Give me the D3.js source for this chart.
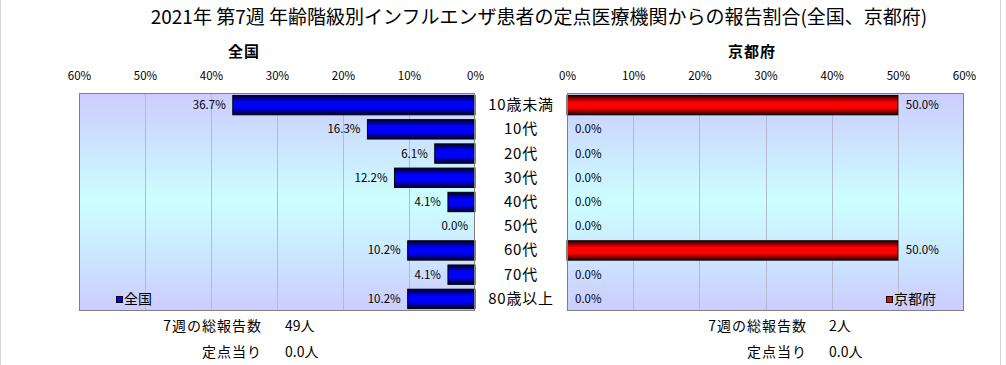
<!DOCTYPE html>
<html><head><meta charset="utf-8">
<script src="https://cdn.jsdelivr.net/npm/d3@7"></script>
<style>
body{margin:0;background:#fff;}
svg{display:block;font-family:"Noto Sans CJK JP","Noto Sans",sans-serif;}
</style></head>
<body><svg id="c" width="1006" height="365"></svg>
<script>
const title = "2021年 第7週 年齢階級別インフルエンザ患者の定点医療機関からの報告割合(全国、京都府)";
const categories = ["10歳未満","10代","20代","30代","40代","50代","60代","70代","80歳以上"];
const nationalValues = [0.367,0.163,0.061,0.122,0.041,0.000,0.102,0.041,0.102];
const kyotoValues = [0.500,0.000,0.000,0.000,0.000,0.000,0.500,0.000,0.000];
const tickValues = [0,0.1,0.2,0.3,0.4,0.5,0.6];
const seriesNames = ["全国","京都府"];
const totalLabel = "7週の総報告数";
const perPointLabel = "定点当り";
const totals = ["49人","2人"];
const perPoint = ["0.0人","0.0人"];

const svg = d3.select("#c");
const defs = svg.append("defs");

function vgrad(id, stops){
  const g = defs.append("linearGradient").attr("id",id).attr("x1",0).attr("y1",0).attr("x2",0).attr("y2",1);
  stops.forEach(s=>g.append("stop").attr("offset",s[0]).attr("stop-color",s[1]));
}
vgrad("bg",[[0,"#ccccff"],[0.5,"#ccffff"],[1,"#ccccff"]]);
vgrad("blue",[[0,"#000028"],[0.35,"#0000ff"],[0.65,"#0000ff"],[1,"#000028"]]);
vgrad("red",[[0,"#280000"],[0.35,"#ff0000"],[0.65,"#ff0000"],[1,"#280000"]]);

svg.append("line").attr("x1",0.5).attr("x2",0.5).attr("y1",0).attr("y2",365).attr("stroke","#d4d4d4");
svg.append("line").attr("x1",1000.5).attr("x2",1000.5).attr("y1",0).attr("y2",365).attr("stroke","#d4d4d4");

svg.append("text").attr("x",539).attr("y",24).attr("text-anchor","middle")
  .attr("font-size",19).attr("fill","#000").text(title);

const plotTop = 93, plotBottom = 311;
const y = d3.scaleBand().domain(categories).range([plotTop,plotBottom]).paddingInner(0.2).paddingOuter(0.1);
const xL = d3.scaleLinear().domain([0,0.6]).range([475,79]);
const xR = d3.scaleLinear().domain([0,0.6]).range([567,964]);
const pct0 = d3.format(".0%"), pct1 = d3.format(".1%");

function panel(x, values, grad, side, name, subX, legendX){
  const [a,b] = x.range();
  const x0 = Math.min(a,b), x1 = Math.max(a,b);
  const rows = values.map((v,i)=>({v, c:categories[i]}));
  svg.append("rect").attr("x",x0).attr("y",plotTop).attr("width",x1-x0).attr("height",plotBottom-plotTop).attr("fill","url(#bg)");
  svg.append("g").selectAll("line").data(tickValues.slice(1,-1)).join("line")
    .attr("x1",d=>Math.round(x(d))+0.5).attr("x2",d=>Math.round(x(d))+0.5)
    .attr("y1",plotTop).attr("y2",plotBottom).attr("stroke","#b4bccc");
  const ax = svg.append("g").attr("transform",`translate(0,${plotTop-13})`)
    .call(d3.axisTop(x).tickValues(tickValues).tickFormat(pct0).tickSize(0).tickPadding(0));
  ax.select(".domain").remove();
  ax.selectAll("text").attr("font-size",11.5).attr("fill","#000").attr("font-family",'"Noto Sans CJK JP",sans-serif');
  svg.append("g").selectAll("rect").data(rows.filter(r=>r.v>0)).join("rect")
    .attr("x",r=>Math.min(x(0),x(r.v))).attr("width",r=>Math.abs(x(r.v)-x(0)))
    .attr("y",r=>y(r.c)).attr("height",y.bandwidth())
    .attr("fill",`url(#${grad})`).attr("stroke","#000").attr("stroke-width",1);
  svg.append("g").selectAll("text").data(rows).join("text")
    .attr("x",r=> side==="left" ? x(r.v)-7 : x(r.v)+8)
    .attr("y",r=>y(r.c)+y.bandwidth()/2+4)
    .attr("text-anchor", side==="left" ? "end" : "start")
    .attr("font-size",11.5).attr("fill","#000").text(r=>pct1(r.v));
  svg.append("rect").attr("x",x0+0.5).attr("y",plotTop+0.5).attr("width",x1-x0-1).attr("height",plotBottom-plotTop-1)
    .attr("fill","none").attr("stroke","#808080");
  svg.append("text").attr("x",subX).attr("y",57).attr("text-anchor","middle").attr("font-size",15)
    .attr("font-weight","bold").attr("letter-spacing",1).text(name);
  const lg = svg.append("g").attr("transform",`translate(${legendX},299)`);
  lg.append("rect").attr("x",0.5).attr("y",-2.5).attr("width",6).attr("height",6).attr("fill",grad==="blue"?"#0000ff":"#ff0000").attr("stroke","#000");
  lg.append("text").attr("x",8).attr("y",5).attr("font-size",14).text(name);
}
panel(xL, nationalValues, "blue", "left", seriesNames[0], 244, 116);
panel(xR, kyotoValues, "red", "right", seriesNames[1], 752, 886);

svg.append("g").selectAll("text").data(categories).join("text")
  .attr("x",521).attr("y",d=>y(d)+y.bandwidth()/2+5).attr("text-anchor","middle")
  .attr("font-size",15).attr("letter-spacing",0.8).text(d=>d);

[[262,285,0],[807,829,1]].forEach(([lx,vx,i])=>{
  svg.append("text").attr("x",lx).attr("y",331).attr("text-anchor","end").attr("font-size",14).attr("letter-spacing",1).text(totalLabel);
  svg.append("text").attr("x",vx).attr("y",331).attr("font-size",14).text(totals[i]);
  svg.append("text").attr("x",lx).attr("y",357).attr("text-anchor","end").attr("font-size",14).attr("letter-spacing",1).text(perPointLabel);
  svg.append("text").attr("x",vx).attr("y",357).attr("font-size",14).text(perPoint[i]);
});
</script></body></html>
